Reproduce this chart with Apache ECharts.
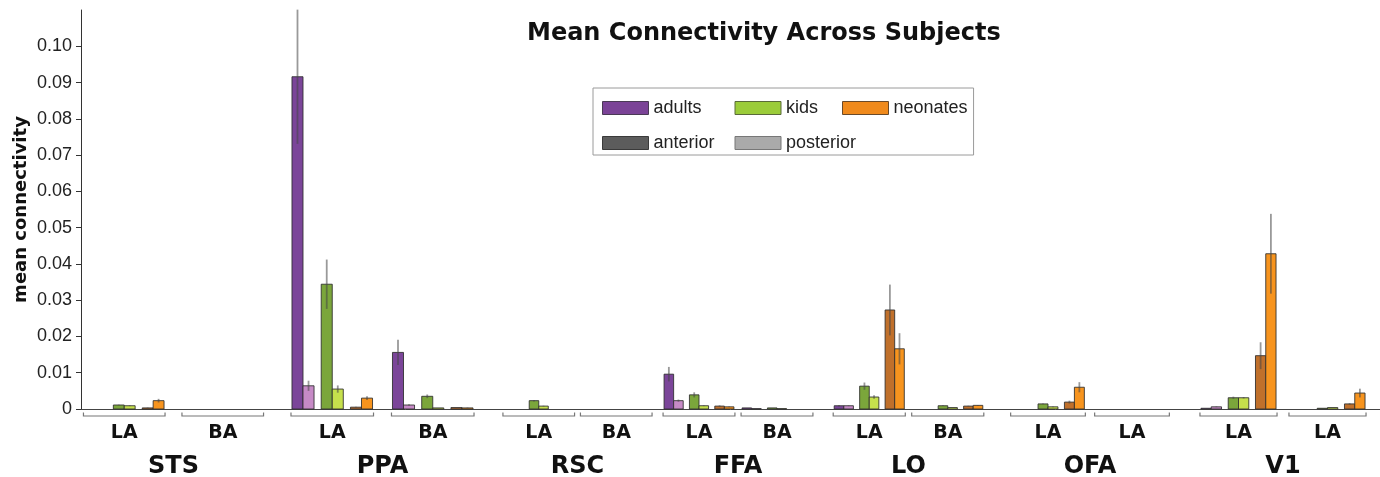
<!DOCTYPE html>
<html>
<head>
<meta charset="utf-8">
<script src="https://cdn.jsdelivr.net/npm/echarts@6/dist/echarts.min.js"></script>
<style>html,body{margin:0;padding:0;background:#fff;}#chart{width:1380px;height:477px;}</style>
</head>
<body>
<div id="chart"></div>
<script>
// ---------- data ----------
const regions = ['STS', 'PPA', 'RSC', 'FFA', 'LO', 'OFA', 'V1'];
const subLabels = ['LA', 'BA', 'LA', 'BA', 'LA', 'BA', 'LA', 'BA', 'LA', 'BA', 'LA', 'LA', 'LA', 'LA'];

const adultsAnt  = [0, 0, 0.0916, 0.0156, 0, 0, 0.0096, 0.0003, 0.0009, 0, 0, 0, 0.0002, 0];
const adultsPost = [0, 0, 0.0064, 0.0011, 0, 0, 0.0023, 0.0001, 0.0009, 0, 0, 0, 0.0006, 0];
const kidsAnt    = [0.0011, 0, 0.0344, 0.0035, 0.0023, 0, 0.0039, 0.0003, 0.0063, 0.0009, 0.0014, 0, 0.0031, 0.0002];
const kidsPost   = [0.0009, 0, 0.0055, 0.0003, 0.0008, 0, 0.0009, 0.0001, 0.0033, 0.0004, 0.0006, 0, 0.0031, 0.0004];
const neoAnt     = [0.0003, 0, 0.0005, 0.0004, 0, 0, 0.0008, 0, 0.0273, 0.0008, 0.0019, 0, 0.0147, 0.0014];
const neoPost    = [0.0023, 0, 0.0030, 0.0003, 0, 0, 0.0006, 0, 0.0166, 0.0010, 0.0060, 0, 0.0428, 0.0044];

const adultsAntErr  = [0, 0, 0.0185, 0.0035, 0, 0, 0.0020, 0, 0.0002, 0, 0, 0, 0, 0];
const adultsPostErr = [0, 0, 0.0014, 0.0002, 0, 0, 0.0003, 0, 0.0001, 0, 0, 0, 0.0001, 0];
const kidsAntErr    = [0.0001, 0, 0.0068, 0.0005, 0.0002, 0, 0.0007, 0, 0.0010, 0.0001, 0.0001, 0, 0.0003, 0];
const kidsPostErr   = [0.0001, 0, 0.0010, 0, 0.0001, 0, 0.0001, 0, 0.0005, 0, 0.0001, 0, 0.0002, 0];
const neoAntErr     = [0.0001, 0, 0.0001, 0, 0, 0, 0.0002, 0, 0.0070, 0.0001, 0.0004, 0, 0.0037, 0.0002];
const neoPostErr    = [0.0005, 0, 0.0005, 0.0001, 0, 0, 0.0001, 0, 0.0043, 0.0001, 0.0014, 0, 0.0110, 0.0012];

const legendNames = ['adults', 'kids', 'neonates', 'anterior', 'posterior'];

// ---------- styling / layout ----------
const barColors = ['#7b4599', '#c68ac6', '#7ba63b', '#c6e04c', '#c0702b', '#f7941e'];
const legendColors = ['#7b4397', '#9bcc3a', '#f08a1c', '#5c5c5c', '#aaaaaa'];
const legendBorders = ['#4a3a55', '#5a6a3a', '#6a4a2a', '#3a3a3a', '#777777'];
const legendTextWidths = [66, 41, null, 66, null];
const regionLayout = [[75, 197], [282, 201], [500, 155], [660, 156], [830, 157], [1006, 168], [1194, 178]];

const valueSets = [adultsAnt, adultsPost, kidsAnt, kidsPost, neoAnt, neoPost];
const errSets = [adultsAntErr, adultsPostErr, kidsAntErr, kidsPostErr, neoAntErr, neoPostErr];

const BOLD = 'DejaVu Sans';
const REG = 'Liberation Sans';
const TOP = 10, BOTTOM = 68, YMAX = 0.11;

function geom(band) {
  const w = 4.5 + 0.065 * band;
  const g = 0.65 * w;
  return { w, g, total: 6 * w + 2 * g };
}

function renderBars(params, api) {
  const cat = api.value(0), k = api.value(1), v = api.value(2), e = api.value(3);
  const band = api.size([1, 0])[0];
  const { w, g, total } = geom(band);
  const base = api.coord([cat, 0]);
  const x = base[0] - total / 2 + k * w + Math.floor(k / 2) * g;
  const children = [];
  if (v > 0) {
    const yTop = api.coord([cat, v])[1];
    children.push({
      type: 'rect',
      shape: { x: x, y: yTop, width: w, height: base[1] - yTop },
      style: { fill: barColors[k], stroke: 'rgba(45,45,45,0.85)', lineWidth: 1 }
    });
  }
  if (e > 0) {
    const y1 = api.coord([cat, v + e])[1];
    const y2 = api.coord([cat, Math.max(0, v - e)])[1];
    children.push({
      type: 'line',
      shape: { x1: x + w / 2, y1: y1, x2: x + w / 2, y2: y2 },
      style: { stroke: 'rgba(70,70,70,0.55)', lineWidth: 1.8 }
    });
  }
  return { type: 'group', children };
}

function renderBracket(params, api) {
  const cat = api.value(0);
  const band = api.size([1, 0])[0];
  const { total } = geom(band);
  const base = api.coord([cat, 0]);
  const half = total / 2 + 1;
  const y = base[1] + 7;
  return {
    type: 'polyline',
    shape: { points: [[base[0] - half, y - 3.5], [base[0] - half, y], [base[0] + half, y], [base[0] + half, y - 3.5]] },
    style: { stroke: '#777', lineWidth: 1.2, fill: null }
  };
}

// ---------- build option ----------
const grids = [{ left: 81, right: 0, top: TOP, bottom: BOTTOM, containLabel: false, outerBoundsMode: 'none' }];
const xAxes = [{
  gridIndex: 0, type: 'value', min: 0, max: 1,
  axisLine: { show: true, lineStyle: { color: '#444', width: 1 } },
  axisTick: { show: false }, axisLabel: { show: false }, splitLine: { show: false }
}];
const yAxes = [{
  gridIndex: 0, type: 'value', min: 0, max: YMAX, interval: 0.01,
  name: 'mean connectivity', nameLocation: 'middle', nameGap: 51, nameMoveOverlap: false,
  nameTextStyle: { fontFamily: BOLD, fontWeight: 'bold', fontSize: 18, color: '#111' },
  axisLine: { show: true, lineStyle: { color: '#333', width: 1 } },
  axisTick: { show: true, length: 5, lineStyle: { color: '#333' } },
  axisLabel: {
    showMaxLabel: false, fontFamily: REG, fontSize: 18, color: '#222', margin: 9,
    formatter: v => (v === 0 ? '0' : v.toFixed(2))
  },
  splitLine: { show: false }
}];
const series = [];

regions.forEach((name, r) => {
  const gi = r + 1;
  grids.push({ left: regionLayout[r][0], width: regionLayout[r][1], top: TOP, bottom: BOTTOM, containLabel: false, outerBoundsMode: 'none' });
  const cats = [subLabels[2 * r], subLabels[2 * r + 1]];
  xAxes.push({
    gridIndex: gi, type: 'category', data: cats,
    name: name, nameLocation: 'middle', nameGap: 46,
    nameTextStyle: { fontFamily: BOLD, fontWeight: 'bold', fontSize: 24, color: '#111' },
    axisLine: { show: false }, axisTick: { show: false },
    axisLabel: { fontFamily: BOLD, fontWeight: 'bold', fontSize: 19, color: '#111', margin: 15, interval: 0 },
    splitLine: { show: false }
  });
  yAxes.push({ gridIndex: gi, type: 'value', min: 0, max: YMAX, show: false, splitLine: { show: false } });

  const data = [];
  [0, 1].forEach(c => {
    const idx = 2 * r + c;
    valueSets.forEach((arr, k) => data.push([c, k, arr[idx], errSets[k][idx]]));
  });
  series.push({
    type: 'custom', name: name + ' bars', xAxisIndex: gi, yAxisIndex: gi,
    renderItem: renderBars, data: data, encode: { x: 0, y: 2 }, clip: false, silent: true, z: 3
  });
  series.push({
    type: 'custom', name: name + ' brackets', xAxisIndex: gi, yAxisIndex: gi,
    renderItem: renderBracket, data: [[0], [1]], encode: { x: 0 }, clip: false, silent: true, z: 2
  });
});

legendNames.forEach((n, i) => {
  series.push({ type: 'line', name: n, xAxisIndex: 0, yAxisIndex: 0, data: [], itemStyle: { color: legendColors[i] } });
});

const option = {
  animation: false,
  backgroundColor: '#ffffff',
  title: {
    text: 'Mean Connectivity Across Subjects',
    left: 522, top: 17,
    textStyle: { fontFamily: BOLD, fontWeight: 'bold', fontSize: 24, color: '#111' }
  },
  legend: {
    left: 593, top: 88, width: 370,
    orient: 'horizontal',
    padding: [10, 6, 2, 9],
    itemWidth: 46, itemHeight: 13, itemGap: 15,
    borderColor: '#9a9a9a', borderWidth: 1,
    selectedMode: false,
    textStyle: { fontFamily: REG, fontSize: 18, color: '#222', lineHeight: 20 },
    data: legendNames.map((n, i) => {
      const item = {
        name: n, icon: 'rect',
        itemStyle: { color: legendColors[i], borderColor: legendBorders[i], borderWidth: 1 }
      };
      if (legendTextWidths[i]) item.textStyle = { width: legendTextWidths[i] };
      return item;
    })
  },
  grid: grids,
  xAxis: xAxes,
  yAxis: yAxes,
  series: series
};

const chart = echarts.init(document.getElementById('chart'), null, { renderer: 'canvas' });
chart.setOption(option);
</script>
</body>
</html>
